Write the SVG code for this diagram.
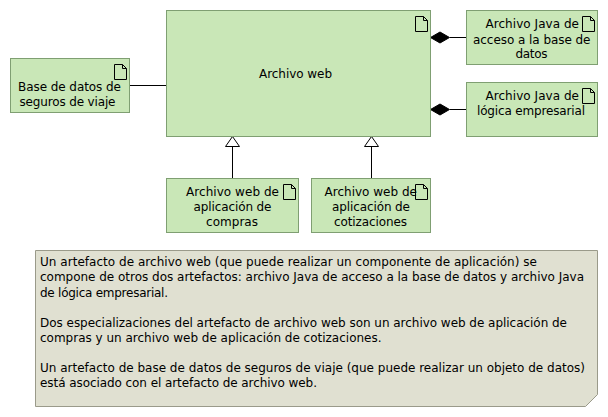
<svg xmlns="http://www.w3.org/2000/svg" width="608" height="417" viewBox="0 0 608 417">
<style>
text{font-family:"DejaVu Sans",sans-serif;font-size:12px;fill:#000}
.box{fill:#c9e7b7;stroke:#7f9f72;stroke-width:1}
.ico{fill:none;stroke:#000;stroke-width:1}
.ln{fill:none;stroke:#000;stroke-width:1}
</style>
<defs>
<g id="art"><path class="ico" d="M0 0H8L12 4V15H0Z M8 0V4H12"/></g>
</defs>
<g id="connectors">
<path class="ln" d="M466 37.500H450"/>
<path d="M430.500 37.500L440 32L449.500 37.500L440 43Z" fill="#000" stroke="#000"/>
<path class="ln" d="M466 109.500H450"/>
<path d="M430.500 109.500L440 104L449.500 109.500L440 115Z" fill="#000" stroke="#000"/>
<path class="ln" d="M129.500 85.500H166.500"/>
<path class="ln" d="M232.500 178V146.500"/>
<path d="M232.500 136.500L239.500 146.500H225.500Z" fill="#fff" stroke="#000"/>
<path class="ln" d="M371.500 178V146.500"/>
<path d="M371.500 136.500L378.500 146.500H364.500Z" fill="#fff" stroke="#000"/>
</g>
<g id="archivo-web">
<rect class="box" x="166.500" y="10.500" width="264" height="126"/>
<use href="#art" x="415.500" y="16.500"/>
<text x="259" y="78" textLength="73">Archivo web</text>
</g>
<g id="java-acceso">
<rect class="box" x="466.500" y="10.500" width="131" height="54"/>
<use href="#art" x="582.500" y="16.500"/>
<text x="485.500" y="28" textLength="93.500">Archivo Java de</text>
<text x="473" y="43.500" textLength="117.500">acceso a la base de</text>
<text x="515.500" y="58" textLength="32">datos</text>
</g>
<g id="java-logica">
<rect class="box" x="466.500" y="82.500" width="131" height="54"/>
<use href="#art" x="582.500" y="88.500"/>
<text x="485.500" y="100" textLength="93.500">Archivo Java de</text>
<text x="477" y="115" textLength="108">lógica empresarial</text>
</g>
<g id="base-datos">
<rect class="box" x="10.500" y="58.500" width="119" height="54"/>
<use href="#art" x="114.500" y="64.500"/>
<text x="18" y="90.500" textLength="103">Base de datos de</text>
<text x="19.500" y="105.500" textLength="96">seguros de viaje</text>
</g>
<g id="web-compras">
<rect class="box" x="166.500" y="178.500" width="132" height="54"/>
<use href="#art" x="283.500" y="184.500"/>
<text x="186" y="196" textLength="93">Archivo web de</text>
<text x="193.500" y="211" textLength="78">aplicación de</text>
<text x="206" y="226" textLength="52">compras</text>
</g>
<g id="web-cotizaciones">
<rect class="box" x="311.500" y="178.500" width="119" height="54"/>
<use href="#art" x="415.500" y="184.500"/>
<text x="324.500" y="196" textLength="92.500">Archivo web de</text>
<text x="332" y="211" textLength="78">aplicación de</text>
<text x="334" y="226" textLength="73">cotizaciones</text>
</g>
<g id="nota">
<path d="M35.500 250.500H597.500V394.500L585.500 406.500H35.500Z" fill="#e0e0d1" stroke="#9a9a8a"/>
<text x="40" y="266" textLength="497">Un artefacto de archivo web (que puede realizar un componente de aplicación) se</text>
<text x="40" y="281" textLength="544">compone de otros dos artefactos: archivo Java de acceso a la base de datos y archivo Java</text>
<text x="40" y="297" textLength="128">de lógica empresarial.</text>
<text x="40" y="327" textLength="527">Dos especializaciones del artefacto de archivo web son un archivo web de aplicación de</text>
<text x="40" y="342" textLength="341.500">compras y un archivo web de aplicación de cotizaciones.</text>
<text x="40" y="372" textLength="545">Un artefacto de base de datos de seguros de viaje (que puede realizar un objeto de datos)</text>
<text x="40" y="387" textLength="277">está asociado con el artefacto de archivo web.</text>
</g>
</svg>
